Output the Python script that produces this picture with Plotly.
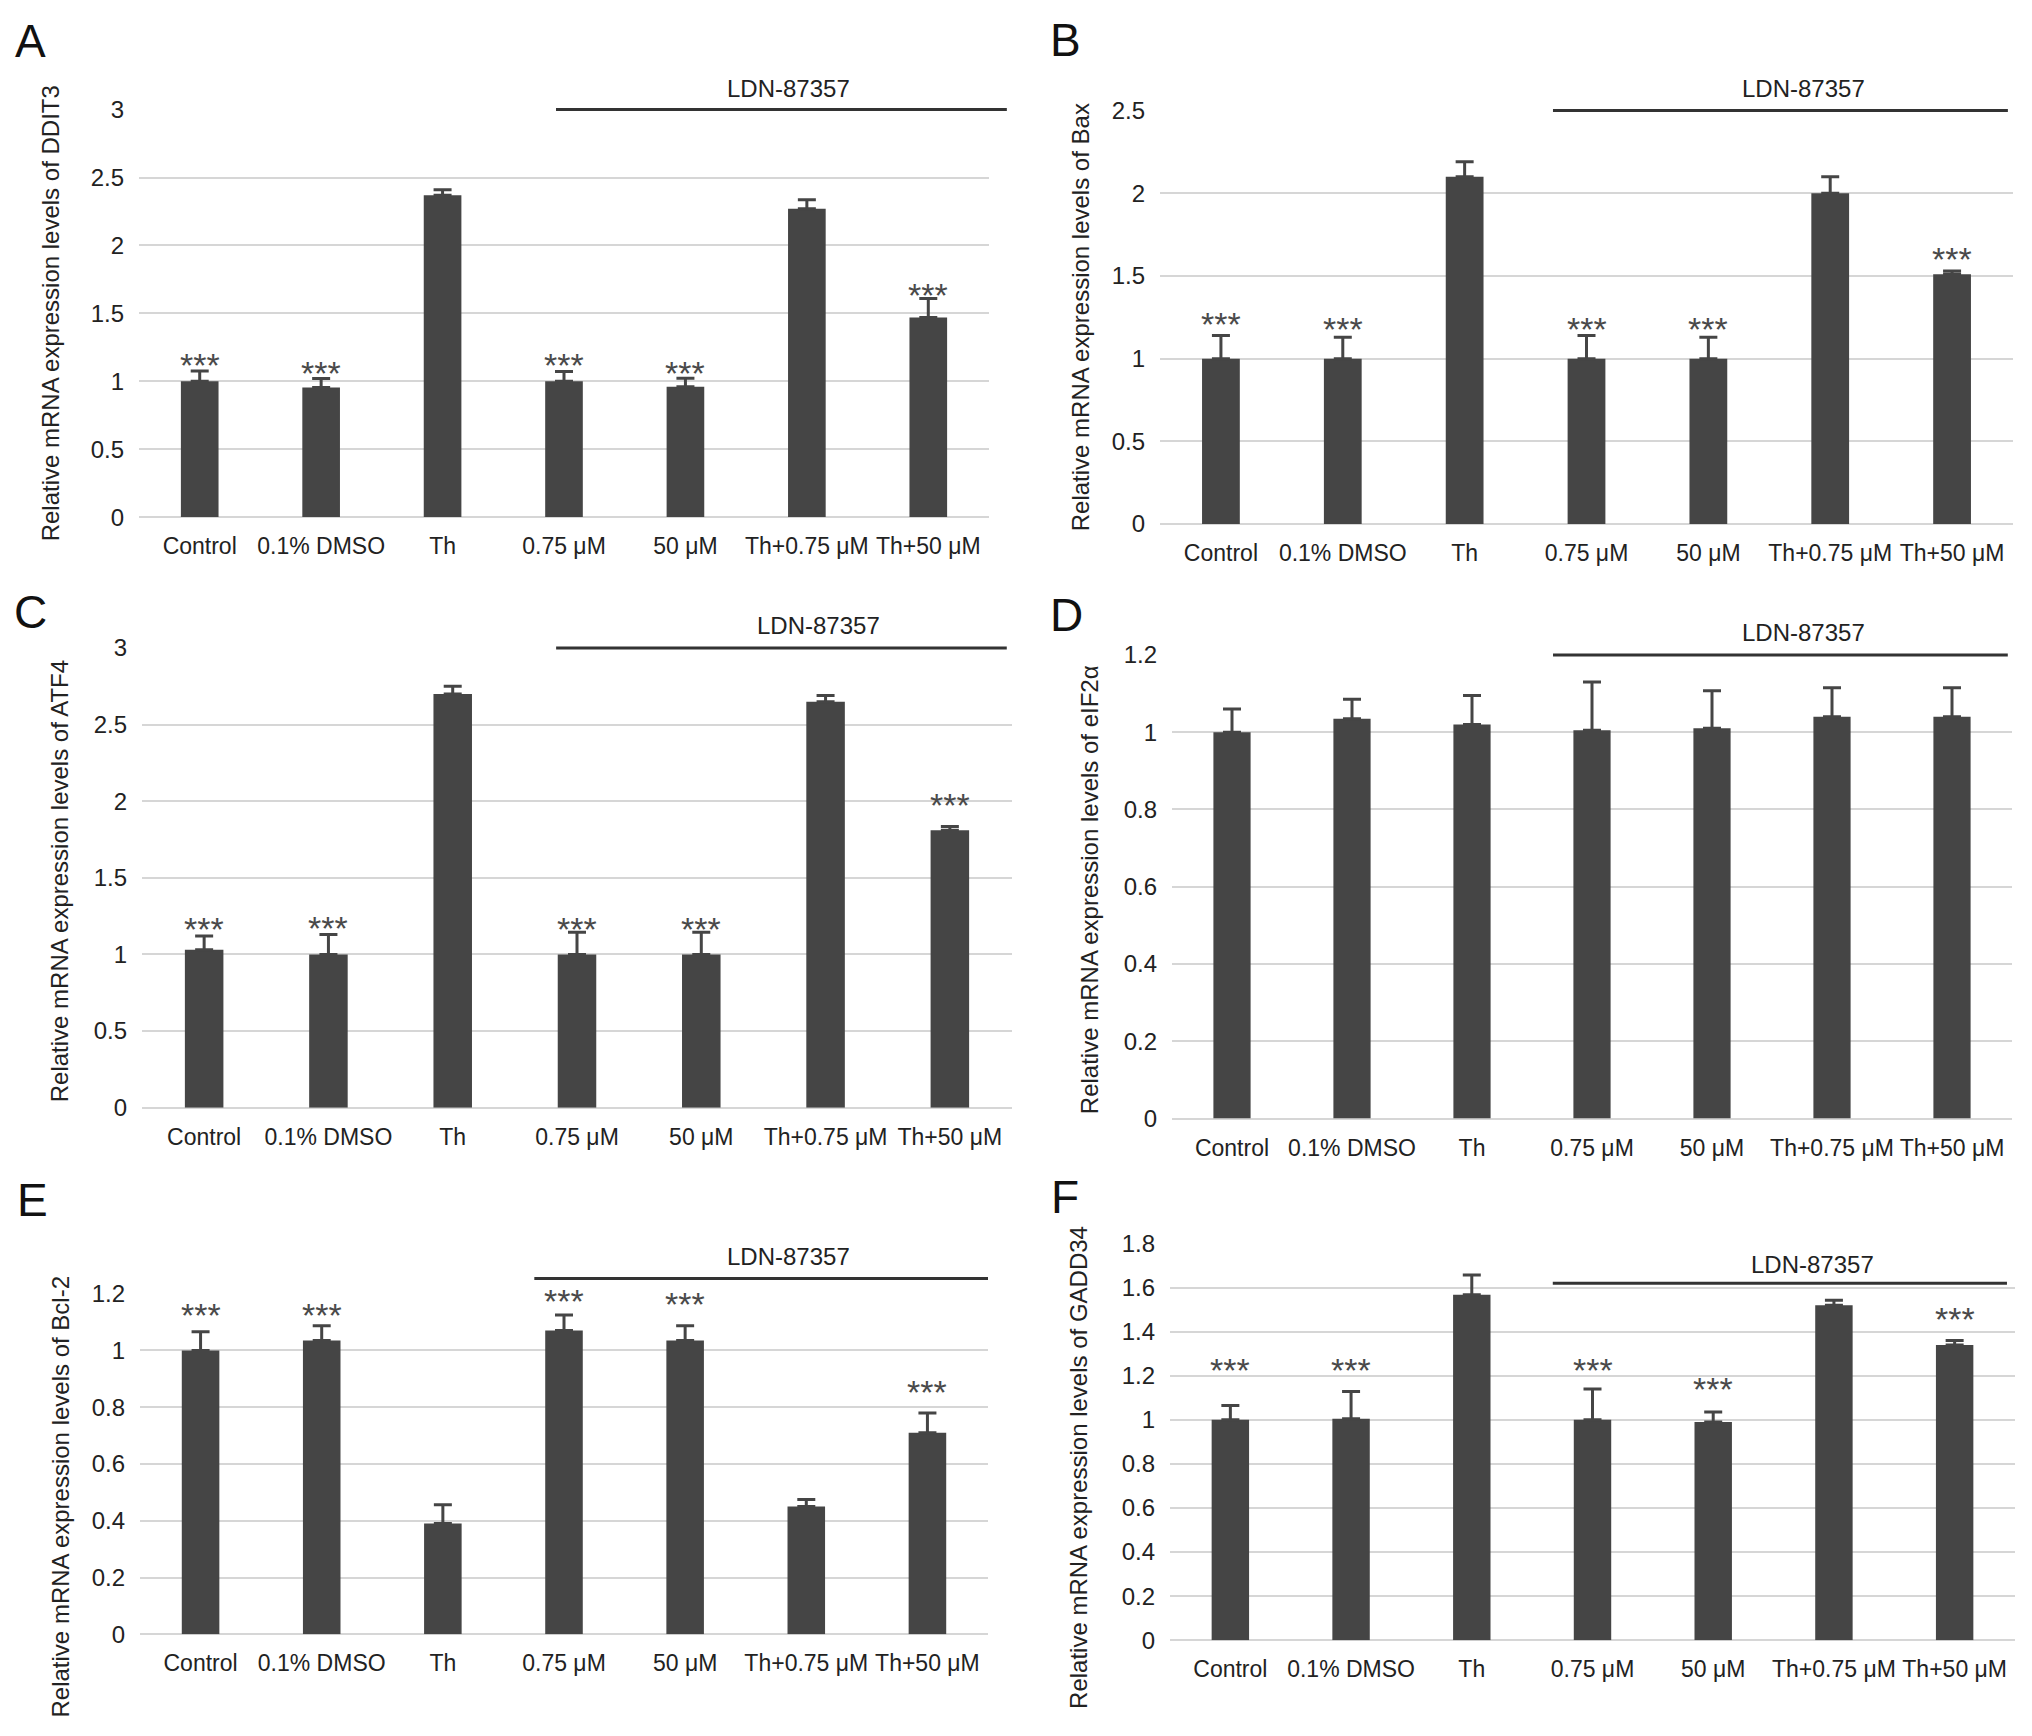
import plotly.graph_objects as go

W, H = 2032, 1736          # browser window
OFF = 8                    # default page body margin
FW, FH = W - 2 * OFF, H - 2 * OFF

categories = ["Control", "0.1% DMSO", "Th", "0.75 μM", "50 μM", "Th+0.75 μM", "Th+50 μM"]

# Panel A - DDIT3
ddit3_mean = [1.00, 0.955, 2.37, 1.00, 0.96, 2.27, 1.47]
ddit3_err = [0.075, 0.066, 0.04, 0.072, 0.062, 0.067, 0.14]
ddit3_star = [1.17, 1.11, None, 1.17, 1.11, None, 1.69]

# Panel B - Bax
bax_mean = [1.00, 1.00, 2.10, 1.00, 1.00, 2.00, 1.51]
bax_err = [0.14, 0.13, 0.09, 0.14, 0.13, 0.10, 0.02]
bax_star = [1.25, 1.22, None, 1.22, 1.22, None, 1.645]

# Panel C - ATF4
atf4_mean = [1.03, 1.00, 2.70, 1.00, 1.00, 2.65, 1.81]
atf4_err = [0.09, 0.13, 0.05, 0.145, 0.145, 0.04, 0.025]
atf4_star = [1.21, 1.22, None, 1.21, 1.21, None, 2.02]

# Panel D - eIF2alpha
eif2a_mean = [1.00, 1.035, 1.02, 1.005, 1.01, 1.04, 1.04]
eif2a_err = [0.06, 0.05, 0.075, 0.125, 0.097, 0.075, 0.075]
eif2a_star = [None, None, None, None, None, None, None]

# Panel E - Bcl-2
bcl2_mean = [1.00, 1.035, 0.39, 1.07, 1.035, 0.45, 0.71]
bcl2_err = [0.066, 0.052, 0.066, 0.055, 0.052, 0.025, 0.07]
bcl2_star = [1.148, 1.148, None, 1.199, 1.19, None, 0.88]

# Panel F - GADD34
gadd34_mean = [1.00, 1.005, 1.568, 1.00, 0.99, 1.52, 1.34]
gadd34_err = [0.065, 0.124, 0.089, 0.14, 0.046, 0.023, 0.02]
gadd34_star = [1.26, 1.26, None, 1.26, 1.173, None, 1.49]

genes = ["DDIT3", "Bax", "ATF4", "eIF2α", "Bcl-2", "GADD34"]
letters = ["A", "B", "C", "D", "E", "F"]
means = [ddit3_mean, bax_mean, atf4_mean, eif2a_mean, bcl2_mean, gadd34_mean]
errs = [ddit3_err, bax_err, atf4_err, eif2a_err, bcl2_err, gadd34_err]
stars = [ddit3_star, bax_star, atf4_star, eif2a_star, bcl2_star, gadd34_star]
ymax = [3, 2.5, 3, 1.2, 1.2, 1.8]
dticks = [0.5, 0.5, 0.5, 0.2, 0.2, 0.2]
drug_label = "LDN-87357"

# Layout geometry (window pixels)
geom = [
    dict(x=(139, 989), y=(97, 511), line=(0.4906, 1.021, 1.0), text=(788, 76), title=(50, 304), letter=(13, 27)),
    dict(x=(1160, 2013), y=(98, 518), line=(0.4607, 0.994, 1.0), text=(1803, 76), title=(1080, 308), letter=(1048, 26)),
    dict(x=(142, 1012), y=(644, 1111), line=(0.476, 0.994, 1.0), text=(818, 621), title=(59, 881), letter=(12, 607)),
    dict(x=(1172, 2012), y=(651, 1122), line=(0.4536, 0.995, 1.0), text=(1803, 628), title=(1089, 890), letter=(1048, 610)),
    dict(x=(140, 988), y=(1300, 1646), line=(0.465, 1.0, 1.045), text=(788, 1262), title=(60, 1506), letter=(15, 1205)),
    dict(x=(1170, 2015), y=(1249, 1652), line=(0.453, 0.9905, 0.9), text=(1812, 1270), title=(1079, 1477), letter=(1049, 1202)),
]

BAR = "#454545"
GRID = "#d6d6d6"
FONT = "Liberation Sans, Arial, sans-serif"


def px(x):
    return (x - OFF) / FW


def py(y):
    return 1 - (y - OFF) / FH


fig = go.Figure()
annotations = []
shapes = []
layout = {}

for i in range(6):
    n = i + 1
    xa = "x" if n == 1 else f"x{n}"
    ya = "y" if n == 1 else f"y{n}"
    g = geom[i]
    fig.add_trace(go.Bar(
        x=categories, y=means[i], xaxis=xa, yaxis=ya,
        marker=dict(color=BAR, line=dict(width=0)),
        error_y=dict(type="data", symmetric=False, array=errs[i], arrayminus=[0] * 7,
                     color=BAR, thickness=3, width=9),
        showlegend=False, hoverinfo="x+y",
    ))
    nt = int(round(ymax[i] / dticks[i]))
    tickvals = [round(k * dticks[i], 3) for k in range(nt + 1)]
    ticktext = [("%g" % v) for v in tickvals]
    layout["xaxis" if n == 1 else f"xaxis{n}"] = dict(
        domain=[px(g["x"][0]), px(g["x"][1])], anchor=ya, type="category",
        showgrid=False, showline=False, zeroline=False, ticks="", tickangle=0,
        tickfont=dict(size=23, color="#222", family=FONT), ticklabelstandoff=13,
        fixedrange=True,
    )
    layout["yaxis" if n == 1 else f"yaxis{n}"] = dict(
        domain=[py(g["y"][1]), py(g["y"][0])], anchor=xa, range=[0, ymax[i]],
        tickvals=tickvals, ticktext=ticktext,
        showgrid=True, gridcolor=GRID, gridwidth=2,
        zeroline=True, zerolinecolor=GRID, zerolinewidth=2,
        showline=False, ticks="", ticklabelstandoff=14,
        tickfont=dict(size=24, color="#222", family=FONT),
        fixedrange=True,
    )
    # significance stars
    for c, s in zip(categories, stars[i]):
        if s is None:
            continue
        annotations.append(dict(
            x=c, y=s, xref=xa, yref=ya, text="***", showarrow=False,
            yanchor="middle", yshift=-7, font=dict(size=34, color="#4a4a4a", family=FONT),
        ))
    # drug bracket line
    x0, x1, yl = g["line"]
    shapes.append(dict(
        type="line", xref=f"{xa} domain", yref=f"{ya} domain",
        x0=x0, x1=x1, y0=yl, y1=yl, line=dict(color="#333", width=3),
    ))
    annotations.append(dict(
        x=px(g["text"][0]), y=py(g["text"][1]), xref="paper", yref="paper",
        text=drug_label, showarrow=False, xanchor="center", yanchor="middle",
        font=dict(size=24, color="#222", family=FONT),
    ))
    # y axis title
    annotations.append(dict(
        x=px(g["title"][0]), y=py(g["title"][1]), xref="paper", yref="paper",
        text=f"Relative mRNA expression levels of {genes[i]}", textangle=-90,
        showarrow=False, xanchor="center", yanchor="middle",
        font=dict(size=24, color="#222", family=FONT),
    ))
    # panel letter
    annotations.append(dict(
        x=px(g["letter"][0]), y=py(g["letter"][1]), xref="paper", yref="paper",
        text=letters[i], showarrow=False, xanchor="left", yanchor="middle",
        font=dict(size=46, color="#111", family=FONT),
    ))

fig.update_layout(
    width=FW, height=FH, margin=dict(l=0, r=0, t=0, b=0),
    paper_bgcolor="white", plot_bgcolor="white",
    bargap=0.69, annotations=annotations, shapes=shapes,
    font=dict(family=FONT),
    **layout,
)

fig.write_html("out.html")
